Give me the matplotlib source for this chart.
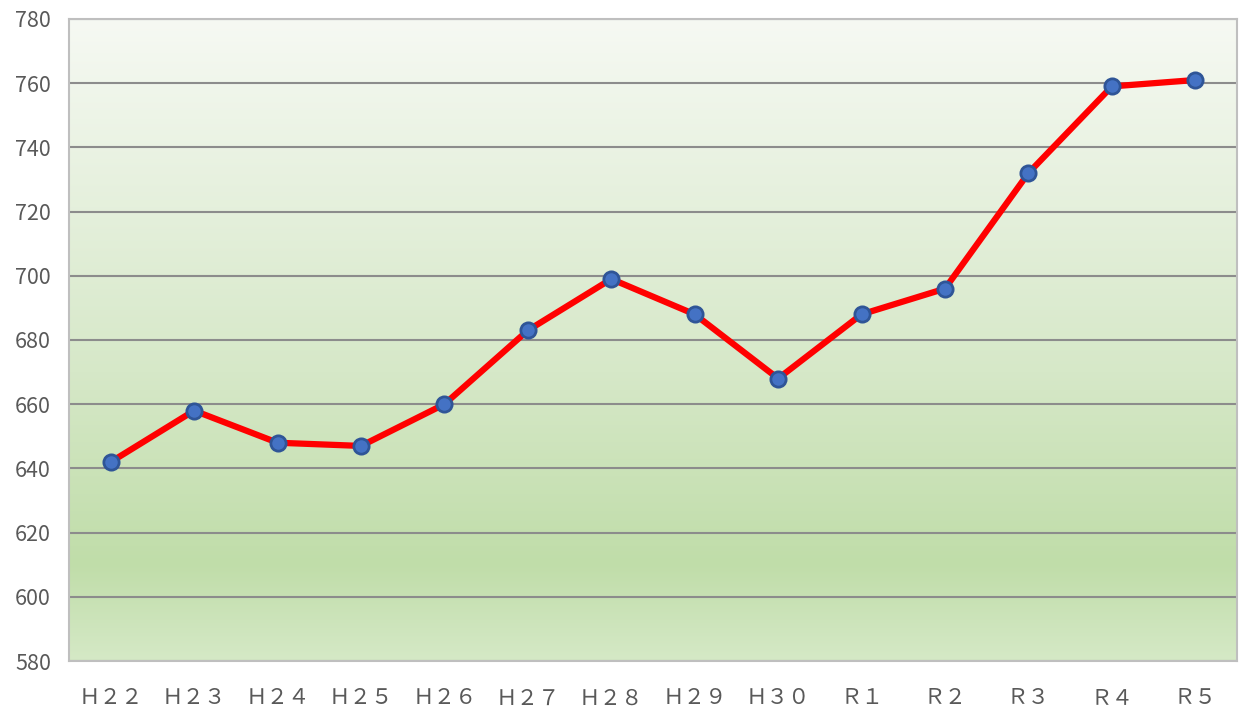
import numpy as np
import matplotlib
matplotlib.use("Agg")
import matplotlib.pyplot as plt
from matplotlib.colors import LinearSegmentedColormap

categories = ["Ｈ２２", "Ｈ２３", "Ｈ２４", "Ｈ２５", "Ｈ２６", "Ｈ２７", "Ｈ２８",
              "Ｈ２９", "Ｈ３０", "Ｒ１", "Ｒ２", "Ｒ３", "Ｒ４", "Ｒ５"]
values = [642, 658, 648, 647, 660, 683, 699, 688, 668, 688, 696, 732, 759, 761]
yticks = [580, 600, 620, 640, 660, 680, 700, 720, 740, 760, 780]

plt.rcParams['font.family'] = ['Noto Sans CJK JP', 'DejaVu Sans']

fig = plt.figure(figsize=(12.42, 7.13), dpi=100)
ax = fig.add_axes([69/1242, 1-661/713, (1237-69)/1242, (661-19)/713])

# gradient background
cmap = LinearSegmentedColormap.from_list(
    "bg", [(0.0, "#D5E9C6"), (0.15, "#C0DDA9"), (0.45, "#D6E8C8"), (1.0, "#F6F9F3")])
grad = np.linspace(0, 1, 256).reshape(-1, 1)
ax.imshow(grad, extent=[0, 1, 0, 1], transform=ax.transAxes, cmap=cmap,
          origin="lower", aspect="auto", zorder=0)

x = np.arange(len(categories))
ax.set_xlim(-0.5, len(categories) - 0.5)
ax.set_ylim(580, 780)
ax.set_yticks(yticks)
ax.grid(axis="y", color="#8C8C8C", linewidth=1.5, zorder=1)
ax.set_axisbelow(True)

ax.plot(x, values, color="#FF0000", linewidth=4.5, zorder=3,
        marker="o", markersize=11, markerfacecolor="#4472C4",
        markeredgecolor="#2F5597", markeredgewidth=2)

ax.set_xticks(x)
ax.set_xticklabels(categories)
ax.tick_params(axis="both", length=0, labelsize=15.5, labelcolor="#595959")
ax.tick_params(axis="x", pad=19)
ax.tick_params(axis="y", pad=13)
for s in ax.spines.values():
    s.set_color("#BFBFBF")
    s.set_linewidth(1.5)

fig.savefig("out.png", dpi=100)
